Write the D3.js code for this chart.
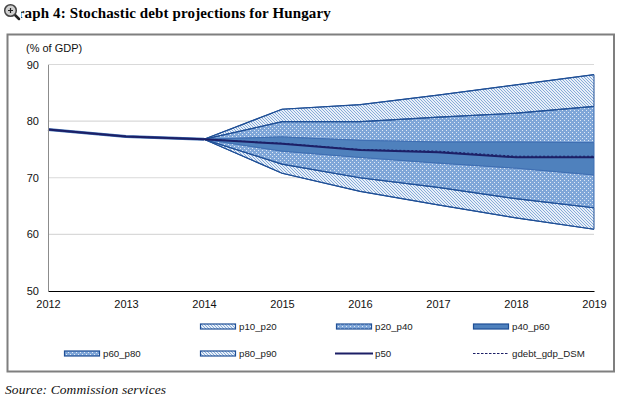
<!DOCTYPE html>
<html><head><meta charset="utf-8">
<script src="https://cdn.jsdelivr.net/npm/d3@7/dist/d3.min.js"></script>
<style>html,body{margin:0;padding:0;background:#fff}svg{display:block}</style></head>
<body><svg id="c" width="620" height="402"></svg>
<script>
const years=[2012,2013,2014,2015,2016,2017,2018,2019];
const projYears=[2014,2015,2016,2017,2018,2019];
const histYears=[2012,2013,2014];
const hist=[78.5,77.3,76.8];
const p10=[76.8,70.8,67.6,65.2,62.9,60.9];
const p20=[76.8,72.4,70.0,68.3,66.3,64.7];
const p40=[76.8,74.7,73.6,72.6,71.7,70.5];
const p60=[76.8,77.2,76.6,76.3,76.3,76.2];
const p80=[76.8,79.9,79.9,80.7,81.4,82.6];
const p90=[76.8,82.1,82.9,84.6,86.4,88.2];
const p50=[78.5,77.3,76.8,76.0,74.9,74.5,73.6,73.6];
const dsm=[78.5,77.3,76.8,76.1,75.0,74.7,73.8,73.8];
const yTicks=[50,60,70,80,90];
const bandNames=["p10_p20","p20_p40","p60_p80","p80_p90","p40_p60"];
const bandLow=[p10,p20,p60,p80,p40];
const bandHigh=[p20,p40,p80,p90,p60];
const bandFill=["url(#light)","url(#dense)","url(#dense)","url(#light)","#4f81bd"];
const bandStroke=["#1f4f96","#3f6fb3","#3f6fb3","#1f4f96","#3f6fb3"];

const svg=d3.select("#c");
const sans="'Liberation Sans',Arial,sans-serif", serif="'Liberation Serif','Times New Roman',serif";
const defs=svg.append("defs");
function pat(id,w,h,bg,cells,col){
  const p=defs.append("pattern").attr("id",id).attr("patternUnits","userSpaceOnUse").attr("width",w).attr("height",h);
  p.append("rect").attr("width",w).attr("height",h).attr("fill",bg);
  p.selectAll("rect.c").data(cells).join("rect").attr("class","c").attr("x",d=>d[0]).attr("y",d=>d[1]).attr("width",1).attr("height",1).attr("fill",col);
}
pat("light",3,3,"#e8eff8",[[0,0],[1,1],[2,2]],"#86abd9");
pat("dense",4,4,"#7fa6d8",[[0,0],[2,2]],"#e0e9f5");

svg.append("rect").attr("x",7.5).attr("y",34.5).attr("width",606.5).attr("height",337).attr("fill","#fff").attr("stroke","#7f7f7f").attr("stroke-width",2);

const x=d3.scaleLinear().domain([2012,2019]).range([48,594]);
const y=d3.scaleLinear().domain([50,90]).range([291,64.5]);

svg.append("g").selectAll("line").data(yTicks.slice(1)).join("line")
  .attr("x1",x(2012)).attr("x2",x(2019)).attr("y1",d=>y(d)).attr("y2",d=>y(d)).attr("stroke","#d9d9d9").attr("stroke-width",1.2);

const area=(lo,hi)=>d3.area().x((d,i)=>x(projYears[i])).y0((d,i)=>y(lo[i])).y1((d,i)=>y(hi[i]))(projYears);
svg.append("g").selectAll("path").data(bandNames).join("path")
  .attr("d",(d,i)=>area(bandLow[i],bandHigh[i]))
  .attr("fill",(d,i)=>bandFill[i]).attr("stroke",(d,i)=>bandStroke[i]).attr("stroke-width",1).attr("stroke-linejoin","round");
svg.append("g").selectAll("path").data([p10,p20,p80,p90]).join("path")
  .attr("d",d=>d3.line().x((v,i)=>x(projYears[i])).y(v=>y(v))(d))
  .attr("fill","none").attr("stroke","#1f4f96").attr("stroke-width",1.2);

svg.append("path").attr("d",d3.line().x((d,i)=>x(histYears[i])).y(d=>y(d))(hist)).attr("fill","none").attr("stroke","#3f6fb3").attr("stroke-width",3);
const line=d3.line().x((d,i)=>x(years[i])).y(d=>y(d));
svg.append("path").attr("d",line(p50)).attr("fill","none").attr("stroke","#1c1f66").attr("stroke-width",2);
svg.append("path").attr("d",line(dsm)).attr("fill","none").attr("stroke","#1c1f66").attr("stroke-width",1).attr("stroke-dasharray","2,2");

const ax=svg.append("g").attr("transform","translate(0,291)").call(d3.axisBottom(x).tickValues(years).tickFormat(d3.format("d")).tickSize(0).tickPadding(9));
ax.select(".domain").attr("stroke","#000").attr("stroke-width",1.2);
ax.selectAll("text").attr("font-family",sans).attr("font-size",11).attr("fill","#111");
const ay=svg.append("g").attr("transform","translate(48,0)").call(d3.axisLeft(y).tickValues(yTicks).tickSize(0).tickPadding(9));
ay.select(".domain").attr("stroke","#8c8c8c").attr("stroke-width",1);
ay.selectAll("text").attr("font-family",sans).attr("font-size",11).attr("fill","#111");

svg.append("text").attr("x",26).attr("y",52).text("(% of GDP)").attr("font-family",sans).attr("font-size",11).attr("fill","#111");

// legend
const legendNames=["p10_p20","p20_p40","p40_p60","p60_p80","p80_p90","p50","gdebt_gdp_DSM"];
const legendX=[200,336,473,64,200,336,473];
const legendRow=[0,0,0,1,1,1,1];
const rowY=[326.5,353.5];
const lg=svg.append("g");
legendNames.forEach((n,i)=>{
  const lx=legendX[i], ly=rowY[legendRow[i]];
  if(n==="p50"){
    lg.append("line").attr("x1",lx-1).attr("x2",lx+37).attr("y1",ly).attr("y2",ly).attr("stroke","#1c1f66").attr("stroke-width",2);
  }else if(n==="gdebt_gdp_DSM"){
    lg.append("line").attr("x1",lx).attr("x2",lx+36).attr("y1",ly).attr("y2",ly).attr("stroke","#1c1f66").attr("stroke-width",1).attr("stroke-dasharray","2.5,1.5");
  }else{
    const f=bandFill[bandNames.indexOf(n)];
    lg.append("rect").attr("x",lx+.5).attr("y",ly-2.5).attr("width",35).attr("height",5).attr("fill",f).attr("stroke","#1f4f96").attr("stroke-width",1.2);
  }
  lg.append("text").attr("x",lx+39).attr("y",ly+3.5).text(n).attr("font-family",sans).attr("font-size",9.7).attr("fill","#222");
});

// title + source
svg.append("text").attr("x",6).attr("y",18).text("Graph 4: Stochastic debt projections for Hungary")
  .attr("font-family",serif).attr("font-weight","bold").attr("font-size",15).attr("letter-spacing",0.13).attr("fill","#000");
svg.append("text").attr("x",5).attr("y",394).text("Source: Commission services")
  .attr("font-family",serif).attr("font-style","italic").attr("font-size",13.5).attr("letter-spacing",0.1).attr("fill","#111");

// zoom icon
const ic=svg.append("g");
ic.append("rect").attr("x",0).attr("y",1).attr("width",21).attr("height",22).attr("fill","#fff");
ic.append("line").attr("x1",15).attr("y1",15).attr("x2",19).attr("y2",19).attr("stroke","#222").attr("stroke-width",2.5).attr("stroke-linecap","round");
ic.append("circle").attr("cx",10.5).attr("cy",10.5).attr("r",5.8).attr("fill","#cfcfcf").attr("stroke","#444").attr("stroke-width",1.5);
ic.append("path").attr("d","M8 10.5h5M10.5 8v5").attr("stroke","#222").attr("stroke-width",1.2);
</script></body></html>
